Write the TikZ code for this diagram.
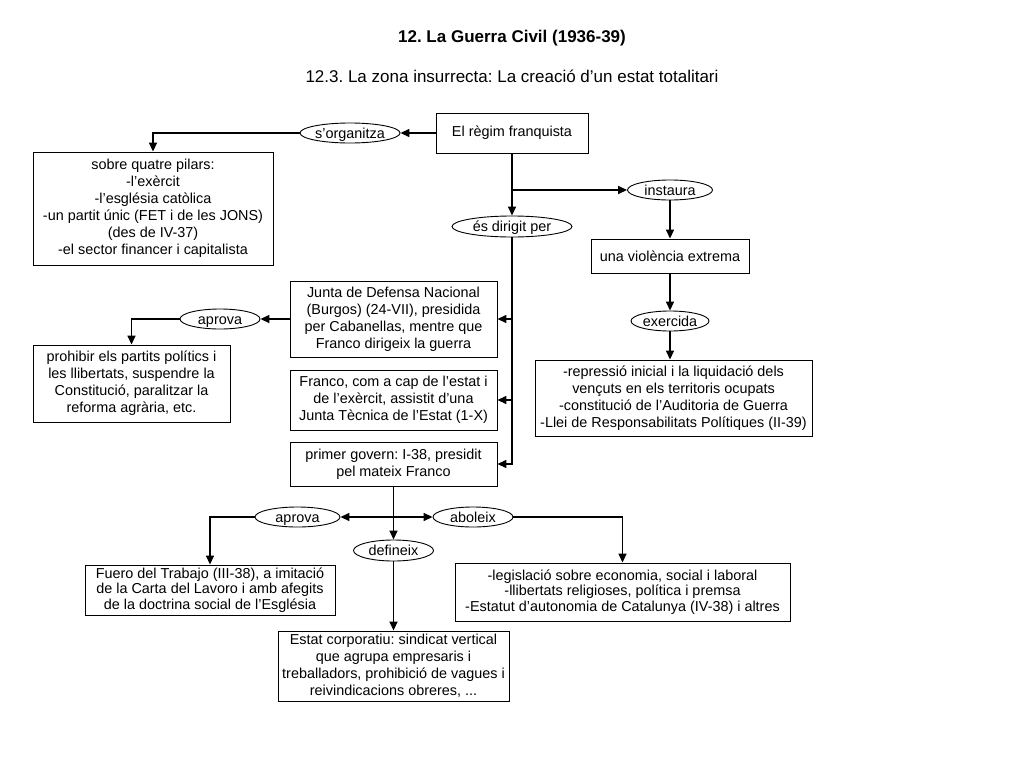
\documentclass[tikz,border=0pt]{standalone}
\usepackage{fontspec}
\setmainfont{Liberation Sans}
\usetikzlibrary{shapes.geometric,arrows.meta}
\newcommand{\bfs}{\fontsize{14.4}{17}\selectfont\frenchspacing}
\begin{document}
\frenchspacing
\begin{tikzpicture}[x=1pt,y=-1pt,
  box/.style={draw, line width=0.9pt, align=center, inner sep=1pt, font=\bfs},
  oval/.style={draw, ellipse, line width=0.9pt, inner sep=0pt, minimum height=20, font=\bfs, text height=10.5pt, text depth=0pt},
  arr/.style={line width=1.5pt, -{Triangle[length=9pt,width=8pt]}},
  ln/.style={line width=1.5pt}]
\useasboundingbox[fill=white] (0,0) rectangle (1024,768);
\node[font=\fontsize{17}{20}\selectfont\bfseries\frenchspacing] (title) at (512,38) {12. La Guerra Civil (1936-39)};
\node[font=\fontsize{17}{20}\selectfont\frenchspacing] (sub) at (512,76) {12.3. La zona insurrecta: La creació d’un estat totalitari};

\node[box, minimum width=152, minimum height=40] (franq) at (512,133) {El règim franquista};
\node[oval, minimum width=100] (sorg) at (350,133) {s’organitza};
\node[box, minimum width=240, minimum height=113] (pilars) at (153,208.5) {sobre quatre pilars:\\-l’exèrcit\\-l’església catòlica\\-un partit únic (FET i de les JONS)\\(des de IV-37)\\-el sector financer i capitalista};
\node[oval, minimum width=85] (instaura) at (670,190) {instaura};
\node[oval, minimum width=120, minimum height=21] (dirigit) at (512,226.5) {és dirigit per};
\node[box, minimum width=158, minimum height=34] (viol) at (670,256) {una violència extrema};
\node[oval, minimum width=78] (exer) at (670,321) {exercida};
\node[box, minimum width=277, minimum height=76] (repr) at (673.5,398) {-repressió inicial i la liquidació dels\\vençuts en els territoris ocupats\\-constitució de l’Auditoria de Guerra\\-Llei de Responsabilitats Polítiques (II-39)};
\node[box, minimum width=207, minimum height=76] (junta) at (393.5,319) {Junta de Defensa Nacional\\(Burgos) (24-VII), presidida\\per Cabanellas, mentre que\\Franco dirigeix la guerra};
\node[oval, minimum width=80] (aprova) at (220,319) {aprova};
\node[box, minimum width=197, minimum height=77] (prohib) at (131.5,383.5) {prohibir els partits polítics i\\les llibertats, suspendre la\\Constitució, paralitzar la\\reforma agrària, etc.};
\node[box, minimum width=207, minimum height=60] (franco) at (393.5,400) {Franco, com a cap de l’estat i\\de l’exèrcit, assistit d’una\\Junta Tècnica de l’Estat (1-X)};
\node[box, minimum width=207, minimum height=44] (govern) at (393.5,464) {primer govern: I-38, presidit\\pel mateix Franco};
\node[oval, minimum width=85] (aprovb) at (297.5,517) {aprova};
\node[oval, minimum width=80] (abol) at (473,517) {aboleix};
\node[oval, minimum width=80, minimum height=21] (defin) at (393.5,550.5) {defineix};
\node[box, minimum width=250, minimum height=50, inner sep=0pt, font=\fontsize{14.4}{15.8}\selectfont] (fuero) at (210,590) {Fuero del Trabajo (III-38), a imitació\\de la Carta del Lavoro i amb afegits\\de la doctrina social de l’Església};
\node[box, minimum width=335, minimum height=58, font=\fontsize{14.4}{15.8}\selectfont] (legis) at (622.5,592) {-legislació sobre economia, social i laboral\\-llibertats religioses, política i premsa\\-Estatut d’autonomia de Catalunya (IV-38) i altres};
\node[box, minimum width=231, minimum height=70] (estat) at (393.5,666) {Estat corporatiu: sindicat vertical\\que agrupa empresaris i\\treballadors, prohibició de vagues i\\reivindicacions obreres, ...};

\coordinate (b1) at (512,190);
\coordinate (bg) at (393.5,517);

\draw[arr] (franq.west) -- (sorg.east);
\draw[arr] (sorg.west) -| (pilars.north);
\draw[arr] (franq.south) -- (dirigit.north);
\draw[arr] (b1) -- (instaura.west);
\draw[arr] (instaura.south) -- (viol.north);
\draw[arr] (viol.south) -- (exer.north);
\draw[arr] (exer.south) -- (exer.south |- repr.north);
\draw[arr] (dirigit.south) |- (govern.east);
\draw[arr] (dirigit.south |- junta.east) -- (junta.east);
\draw[arr] (dirigit.south |- franco.east) -- (franco.east);
\draw[arr] (junta.west) -- (aprova.east);
\draw[arr] (aprova.west) -| (prohib.north);
\draw[arr] (govern.south) -- (defin.north);
\draw[arr] (bg) -- (aprovb.east);
\draw[arr] (bg) -- (abol.west);
\draw[arr] (aprovb.west) -| (fuero.north);
\draw[arr] (abol.east) -| (legis.north);
\draw[arr] (defin.south) -- (estat.north);
\end{tikzpicture}
\end{document}
